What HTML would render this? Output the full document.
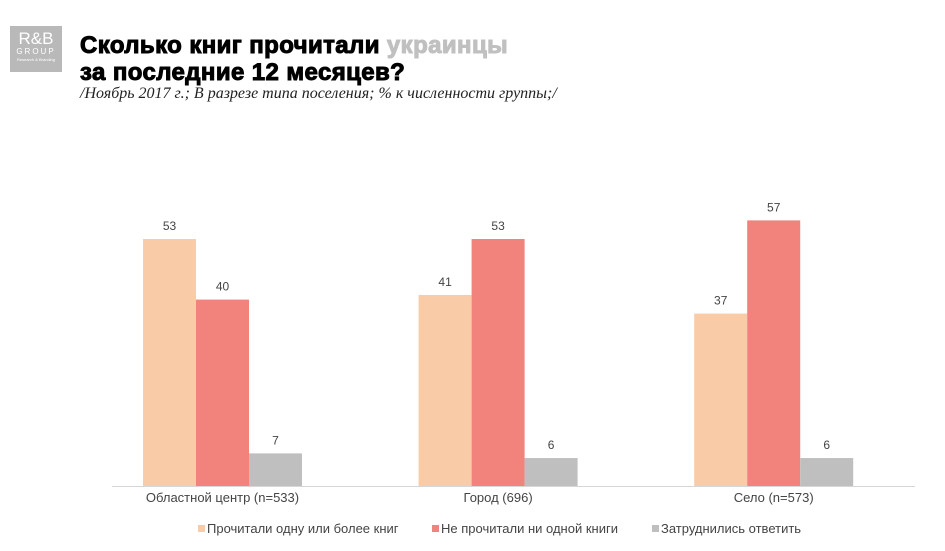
<!DOCTYPE html>
<html><head><meta charset="utf-8"><style>
body{margin:0;width:945px;height:551px;background:#fff;overflow:hidden;font-family:"Liberation Sans",sans-serif;position:relative}
.logo{position:absolute;left:10px;top:26px;width:52px;height:46px;background:#b9b9b9;color:#fff;text-align:center}
.title{position:absolute;left:80px;top:32px;font-weight:900;font-size:24px;line-height:27px;color:#000;letter-spacing:0.4px;-webkit-text-stroke:1px #000}
.sub{position:absolute;left:80px;top:85px;font-family:"Liberation Serif",serif;font-style:italic;font-size:16px;color:#222}
</style></head><body>
<div class="logo"><div style="font-size:17px;line-height:17px;margin-top:4px">R&amp;B</div><div style="font-size:8px;letter-spacing:2px;line-height:10px">GROUP</div><div style="font-size:4px">Research &amp; Branding</div></div>
<div class="title">Сколько книг прочитали <span style="color:#c0c0c0;-webkit-text-stroke:1px #c0c0c0">украинцы</span><br>за последние 12 месяцев?</div>
<div class="sub">/Ноябрь 2017 г.; В разрезе типа поселения; % к численности группы;/</div>
<svg id="c" width="945" height="551" style="position:absolute;left:0;top:0"></svg>
<script>
const categories=["Областной центр (n=533)","Город (696)","Село (n=573)"];
const seriesNames=["Прочитали одну или более книг","Не прочитали ни одной книги","Затруднились ответить"];
const read=[53,41,37];
const notRead=[40,53,57];
const unsure=[7,6,6];
const series=[read,notRead,unsure];
const colors=["#f9cba6","#f1827c","#c0bfbf"];
const svg=document.getElementById('c');const NS="http://www.w3.org/2000/svg";
const base=486,k=4.66,x0=143,gw=275.6,bw=53;
const y=v=>base-v*k;
function mk(t,a){const e=document.createElementNS(NS,t);for(const n in a)e.setAttribute(n,a[n]);svg.appendChild(e);return e;}
categories.forEach((c,i)=>{
 series.forEach((s,j)=>{
  const x=x0+i*gw+j*bw;
  const r=mk('rect',{x:x,y:y(s[i]),width:bw,height:s[i]*k,fill:colors[j]});
  
  
  const t=mk('text',{x:x+bw/2,y:y(s[i])-9,'text-anchor':'middle','font-size':12,fill:'#444'});
  t.textContent=s[i];
  
  
 });
 const l=mk('text',{x:x0+i*gw+1.5*bw,y:502,'text-anchor':'middle','font-size':13,fill:'#444'});
 l.textContent=c;
 
 
});
const ax=mk('line',{x1:112,x2:915,y1:base+0.5,y2:base+0.5,stroke:'#d6d6d6'});


const lx=[198,432,652];
seriesNames.forEach((n,j)=>{
 const r=mk('rect',{x:lx[j],y:525,width:7,height:7,fill:colors[j]});
 
 
 const t=mk('text',{x:lx[j]+9,y:533,'font-size':13,fill:'#444'});
 t.textContent=n;
 
 
});
</script>
</body></html>
